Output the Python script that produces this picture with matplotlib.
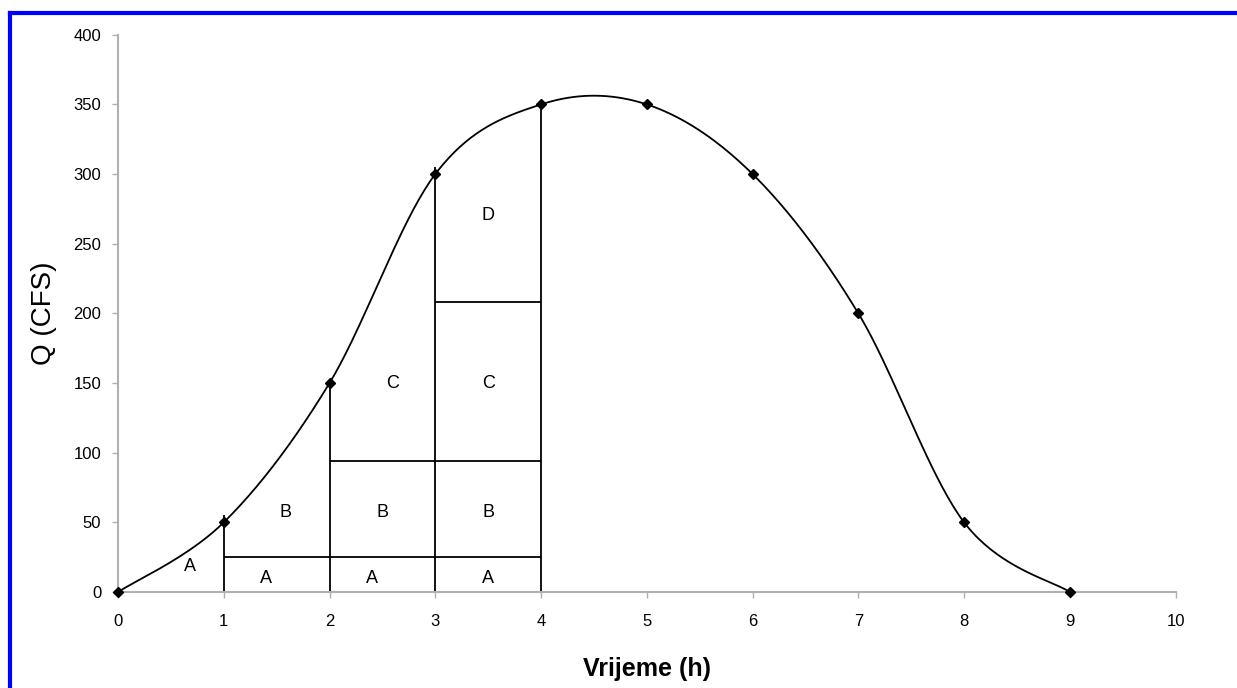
import numpy as np
import matplotlib
matplotlib.use("Agg")
from matplotlib import pyplot as plt
from matplotlib.lines import Line2D

plt.rcParams['font.family'] = ['Liberation Sans', 'DejaVu Sans']

# hydrograph points
time_h = [0, 1, 2, 3, 4, 5, 6, 7, 8, 9]
q_cfs = [0, 50, 150, 300, 350, 350, 300, 200, 50, 0]

# division lines
vert_x = [1, 2, 3, 4]
vert_top = [55, 150, 305, 350]
horiz_y = [25, 94, 208]
horiz_x0 = [1, 2, 3]
horiz_x1 = [4, 4, 4]

# area labels
lab_text = ['A', 'A', 'A', 'A', 'B', 'B', 'B', 'C', 'C', 'D']
lab_x = [0.68, 1.4, 2.4, 3.5, 1.58, 2.5, 3.5, 2.6, 3.5, 3.5]
lab_y = [18, 10, 10, 10, 57, 57, 57, 150, 150, 270]


def smooth(x, y, n=40):
    # excel-like bezier smoothing
    p = np.column_stack([x, y]).astype(float)
    out = []
    for i in range(len(p) - 1):
        p0 = p[i - 1] if i > 0 else p[i]
        p3 = p[i + 2] if i + 2 < len(p) else p[i + 1]
        c1 = p[i] + (p[i + 1] - p0) / 6.0
        c2 = p[i + 1] - (p3 - p[i]) / 6.0
        t = np.linspace(0, 1, n)[:, None]
        seg = ((1 - t) ** 3 * p[i] + 3 * (1 - t) ** 2 * t * c1
               + 3 * (1 - t) * t ** 2 * c2 + t ** 3 * p[i + 1])
        out.append(seg)
    s = np.vstack(out)
    return s[:, 0], s[:, 1]


fig = plt.figure(figsize=(12.37, 6.88), dpi=100)
ax = fig.add_axes([0.0954, 0.1395, 0.855, 0.81])

sx, sy = smooth(time_h, q_cfs)
ax.plot(sx, sy, color='black', lw=1.3, clip_on=False)
ax.plot(time_h, q_cfs, ls='none', marker='D', ms=5, color='black',
        clip_on=False, zorder=5)

ax.vlines(vert_x, 0, vert_top, color='black', lw=1.3)
ax.hlines(horiz_y, horiz_x0, horiz_x1, color='black', lw=1.3)

for t, x, y in zip(lab_text, lab_x, lab_y):
    ax.text(x, y, t, ha='center', va='center', fontsize=13)

ax.set_xlim(0, 10)
ax.set_ylim(0, 400)
ax.set_xticks(range(0, 11))
ax.set_yticks(range(0, 401, 50))
for s in ['top', 'right']:
    ax.spines[s].set_visible(False)
for s in ['left', 'bottom']:
    ax.spines[s].set_color('#b0b0b0')
    ax.spines[s].set_linewidth(1.5)
ax.tick_params(colors='#b0b0b0', labelcolor='black', labelsize=12,
               length=4, width=1)
ax.tick_params(axis='x', pad=12)
ax.tick_params(axis='y', pad=8)
ax.set_xlabel('Vrijeme (h)', fontsize=18, fontweight='bold', labelpad=20)
ax.set_ylabel('Q (CFS)', fontsize=20, labelpad=12)

# blue frame
fig.add_artist(Line2D([0.0081, 0.0081], [0, 0.981], color='blue', lw=3,
                      transform=fig.transFigure))
fig.add_artist(Line2D([0.0081, 1], [0.981, 0.981], color='blue', lw=3,
                      transform=fig.transFigure))

fig.savefig('out.png', dpi=100)
